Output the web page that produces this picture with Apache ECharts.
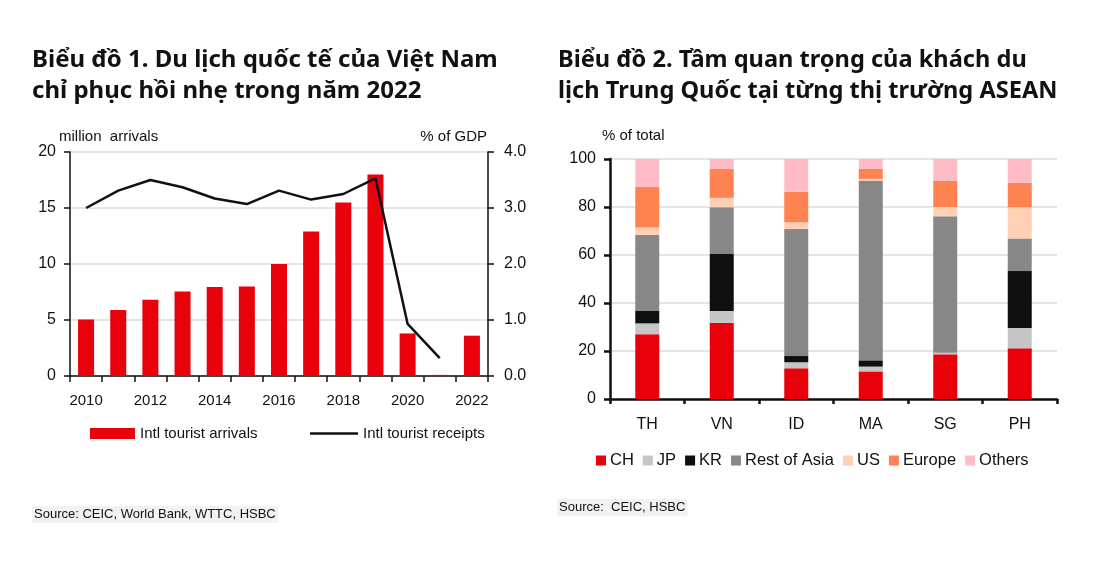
<!DOCTYPE html>
<html><head><meta charset="utf-8">
<script src="https://cdn.jsdelivr.net/npm/echarts@6/dist/echarts.min.js"></script>
<style>html,body{margin:0;padding:0;background:#fff}#c{width:1110px;height:563px}</style>
</head><body><div id="c"></div>
<script>
// Chart 1 data
const years = ['2010','2011','2012','2013','2014','2015','2016','2017','2018','2019','2020','2021','2022'];
const arrivals = [5.05, 5.9, 6.8, 7.55, 7.95, 8.0, 10.0, 12.9, 15.5, 18.0, 3.8, 0.1, 3.6];
const receipts = [3.0, 3.31, 3.5, 3.37, 3.17, 3.07, 3.31, 3.15, 3.25, 3.53, 0.93, 0.32, null];
const leftTicks = [0, 5, 10, 15, 20];
const rightTicks = [0.0, 1.0, 2.0, 3.0, 4.0];

// Chart 2 data
const markets = ['TH','VN','ID','MA','SG','PH'];
const ch = [27.0, 31.7, 12.8, 11.5, 18.6, 21.1];
const jp = [4.5, 5.0, 2.5, 2.0, 0.7, 8.5];
const kr = [5.2, 23.9, 2.6, 2.6, 0.0, 23.7];
const restAsia = [31.6, 19.3, 52.9, 74.9, 56.8, 13.6];
const us = [3.2, 3.9, 2.8, 0.7, 3.9, 13.0];
const europe = [16.8, 12.2, 12.8, 4.3, 11.0, 10.2];
const others = [11.7, 4.0, 13.6, 4.0, 9.0, 9.9];

const F = 'Liberation Sans, Arial, sans-serif';
const TF = 'Noto Sans, DejaVu Sans, sans-serif';
const chart = echarts.init(document.getElementById('c'), null, {renderer: 'canvas'});

const stackNames = ['CH','JP','KR','Rest of Asia','US','Europe','Others'];
const stackData = [ch, jp, kr, restAsia, us, europe, others];
const stackColors = ['#e8000b','#c6c6c6','#0f0f0f','#878787','#ffcfb6','#ff8352','#ffbcc6'];

const axisLbl = {fontFamily: F, fontSize: 15, color: '#111'};

chart.setOption({
  animation: false,
  textStyle: {fontFamily: F},
  title: [
    {text: 'Biểu đồ 1. Du lịch quốc tế của Việt Nam\nchỉ phục hồi nhẹ trong năm 2022', left: 27, top: 40,
     textStyle: {fontFamily: TF, fontWeight: 'bold', fontSize: 24, lineHeight: 31, color: '#111'}},
    {text: 'Biểu đồ 2. Tầm quan trọng của khách du\nlịch Trung Quốc tại từng thị trường ASEAN', left: 553, top: 40,
     textStyle: {fontFamily: TF, fontWeight: 'bold', fontSize: 23.6, lineHeight: 31, color: '#111'}}
  ],
  legend: [
    {data: [{name: 'Intl tourist arrivals', icon: 'rect'}], left: 85, top: 421, itemWidth: 45, itemHeight: 11, itemGap: 6,
     textStyle: {fontFamily: F, fontSize: 15, color: '#111'}},
    {data: [{name: 'Intl tourist receipts', icon: 'rect'}], left: 305, top: 421, itemWidth: 48, itemHeight: 2.5,
     textStyle: {fontFamily: F, fontSize: 15, color: '#111'}},
    {data: stackNames, left: 591, top: 447, itemWidth: 10, itemHeight: 10, itemGap: 9, icon: 'rect',
     textStyle: {fontFamily: F, fontSize: 16.5, color: '#111', padding: [0,0,0,-1]}}
  ],
  grid: [
    {left: 70, top: 152, width: 418, height: 224},
    {left: 610, top: 159, width: 447, height: 240}
  ],
  xAxis: [
    {type: 'category', gridIndex: 0, data: years, boundaryGap: true,
     axisLine: {lineStyle: {color: '#111', width: 1.5}},
     axisTick: {show: true, interval: 0, length: 6, lineStyle: {color: '#111', width: 1.5}},
     axisLabel: Object.assign({interval: 1, margin: 17}, axisLbl)},
    {type: 'category', gridIndex: 1, data: markets, boundaryGap: true,
     axisLine: {lineStyle: {color: '#111', width: 2.5}},
     axisTick: {show: true, interval: 0, length: 5, lineStyle: {color: '#111', width: 2.5}},
     axisLabel: Object.assign({margin: 18}, axisLbl, {fontSize: 16})}
  ],
  yAxis: [
    {type: 'value', gridIndex: 0, min: leftTicks[0], max: leftTicks[leftTicks.length-1], interval: 5,
     axisLine: {show: true, lineStyle: {color: '#111', width: 1.5}},
     axisTick: {show: true, length: 6, lineStyle: {color: '#111', width: 1.5}},
     splitLine: {show: true, lineStyle: {color: '#dcdcdc', width: 1.5}},
     axisLabel: Object.assign({margin: 14}, axisLbl, {fontSize: 16})},
    {type: 'value', gridIndex: 0, position: 'right', min: rightTicks[0], max: rightTicks[rightTicks.length-1], interval: 1,
     axisLine: {show: true, lineStyle: {color: '#111', width: 1.5}},
     axisTick: {show: true, length: 6, lineStyle: {color: '#111', width: 1.5}},
     splitLine: {show: false},
     axisLabel: Object.assign({margin: 16, formatter: v => v.toFixed(1)}, axisLbl, {fontSize: 16})},
    {type: 'value', gridIndex: 1, min: 0, max: 100, interval: 20,
     axisLine: {show: true, lineStyle: {color: '#111', width: 2.5}},
     axisTick: {show: true, length: 6, lineStyle: {color: '#111', width: 2.5}},
     splitLine: {show: true, lineStyle: {color: '#dcdcdc', width: 1.5}},
     axisLabel: Object.assign({margin: 14}, axisLbl, {fontSize: 16})}
  ],
  series: [
    {name: 'Intl tourist arrivals', type: 'bar', xAxisIndex: 0, yAxisIndex: 0, data: arrivals,
     barWidth: 16, itemStyle: {color: '#e8000b'}},
    {name: 'Intl tourist receipts', type: 'line', xAxisIndex: 0, yAxisIndex: 1, data: receipts,
     symbol: 'none', showSymbol: false, connectNulls: false,
     lineStyle: {color: '#111', width: 2.5}, itemStyle: {color: '#111'}}
  ].concat(stackNames.map((n, i) => ({
     name: n, type: 'bar', stack: 'mix', xAxisIndex: 1, yAxisIndex: 2, data: stackData[i],
     barWidth: 24, itemStyle: {color: stackColors[i]}
  }))),
  graphic: [
    {type: 'text', left: 59, top: 129, style: {text: 'million  arrivals', font: '15px ' + F, fill: '#111'}},
    {type: 'text', right: 1110 - 487, top: 129, style: {text: '% of GDP', font: '15px ' + F, fill: '#111', textAlign: 'right'}},
    {type: 'text', left: 602, top: 128, style: {text: '% of total', font: '15px ' + F, fill: '#111'}},
    {type: 'text', left: 32, top: 506, style: {text: 'Source: CEIC, World Bank, WTTC, HSBC', font: '13px ' + F, fill: '#111',
      backgroundColor: '#f2f2f2', padding: [2, 2]}},
    {type: 'text', left: 557, top: 499, style: {text: 'Source:  CEIC, HSBC', font: '13px ' + F, fill: '#111',
      backgroundColor: '#f2f2f2', padding: [2, 2]}}
  ]
});
</script></body></html>
